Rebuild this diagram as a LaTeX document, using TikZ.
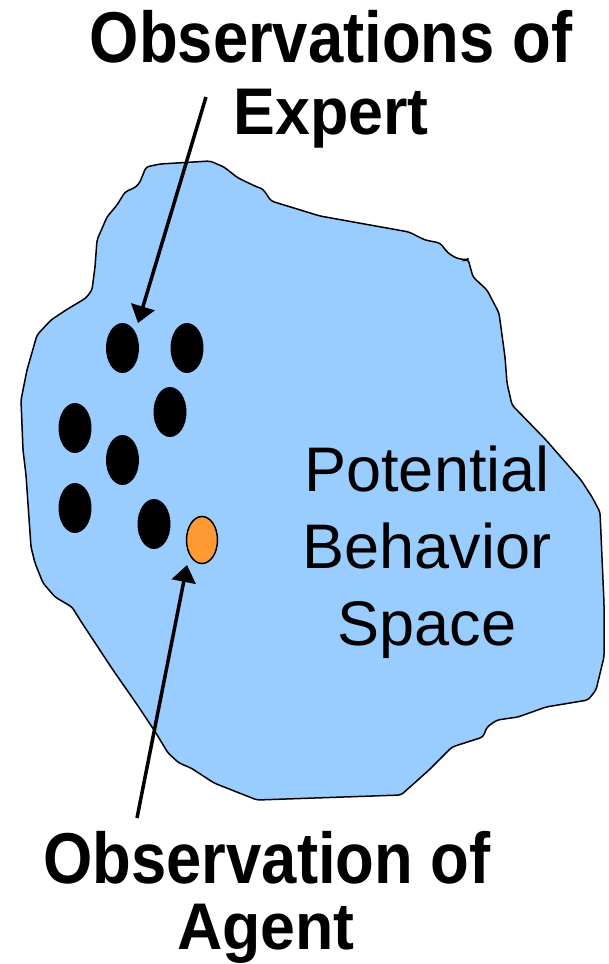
\documentclass[tikz,border=0pt]{standalone}
\usepackage{fontspec}
\setmainfont{Liberation Sans}
\usetikzlibrary{arrows.meta,shapes.geometric}
\definecolor{blobblue}{HTML}{99CCFF}
\definecolor{agentorange}{HTML}{FF9933}
\newcommand{\bigline}[1]{\scalebox{0.88}[1]{#1}}
\newcommand{\smallline}[1]{\scalebox{0.95}[1]{#1}}
\begin{document}
\begin{tikzpicture}[x=1pt,y=-1pt,
  boldbig/.style={font=\fontsize{72}{72}\selectfont\bfseries, anchor=base, inner sep=0pt},
  boldsmall/.style={font=\fontsize{66}{66}\selectfont\bfseries, anchor=base, inner sep=0pt},
  reglbl/.style={font=\fontsize{63}{77}\selectfont, anchor=base, inner sep=0pt, align=center},
  expdot/.style={ellipse, fill=black, minimum width=33pt, minimum height=50pt, inner sep=0pt},
  agdot/.style={ellipse, fill=agentorange, draw=black, line width=1.5pt, minimum width=31pt, minimum height=47pt, inner sep=0pt},
  arr/.style={line width=3.5pt, -{Triangle[length=17pt,width=24pt]}},
  blob/.style={fill=blobblue, draw=black, line width=1.5pt, rounded corners=3pt}
]
\useasboundingbox (0,0) rectangle (608,964);

% behaviour space outline
\draw[blob] (146,167) -- (160,164) -- (210,161) -- (224,167) -- (238,178) -- (257,187)
  -- (263,189) -- (271,201) -- (320,216) -- (409,232) -- (425,240) -- (440,243)
  -- (448,253) -- (456,258) -- (466,260) -- (468,259) -- (473,277) -- (487,290)
  -- (499,313) -- (505,357) -- (507,383) -- (512,405) -- (546,440) -- (581,480)
  -- (592,497) -- (600,512) -- (604,603) -- (604,657) -- (596,690) -- (588,700)
  -- (546,707) -- (518,717) -- (497,720) -- (487,727) -- (483,737) -- (452,747)
  -- (429,770) -- (401,795) -- (257,800) -- (214,783) -- (191,768) -- (179,763)
  -- (168,753) -- (156,733) -- (136,703) -- (113,670) -- (82,623) -- (72,607)
  -- (55,597) -- (43,583) -- (35,563) -- (31,547) -- (26,475) -- (23,450)
  -- (21,400) -- (27,370) -- (37,335) -- (51,320) -- (66,310) -- (86,298)
  -- (92,290) -- (95,267) -- (97,240) -- (107,217) -- (117,205) -- (125,192)
  -- (136,187) -- (140,182) -- cycle;

% expert observations
\node[expdot] (d1) at (122.5,348) {};
\node[expdot] (d2) at (187,348) {};
\node[expdot] (d3) at (170,412) {};
\node[expdot] (d4) at (122.5,460) {};
\node[expdot] (d5) at (154,524) {};
\node[expdot] (d6) at (75,428) {};
\node[expdot] (d7) at (75,508) {};
% agent observation
\node[agdot] (ag) at (202,540) {};

% labels
\node[boldbig] (explbl1) at (331,62) {\bigline{Observations of}};
\node[boldsmall] (explbl2) at (331,134) {\smallline{Expert}};
\node[boldbig] (aglbl1) at (267,883) {\bigline{Observation of}};
\node[boldsmall] (aglbl2) at (266,949) {\smallline{Agent}};
\node[reglbl] (pblbl) at (427,645) {Potential\\Behavior\\Space};

% arrows
\coordinate (a1s) at (206,97);
\coordinate (a1e) at (138,323);
\coordinate (a2s) at (137,818);
\coordinate (a2e) at (187,565);
\draw[arr] (a1s) -- (a1e);
\draw[arr] (a2s) -- (a2e);
\end{tikzpicture}
\end{document}
